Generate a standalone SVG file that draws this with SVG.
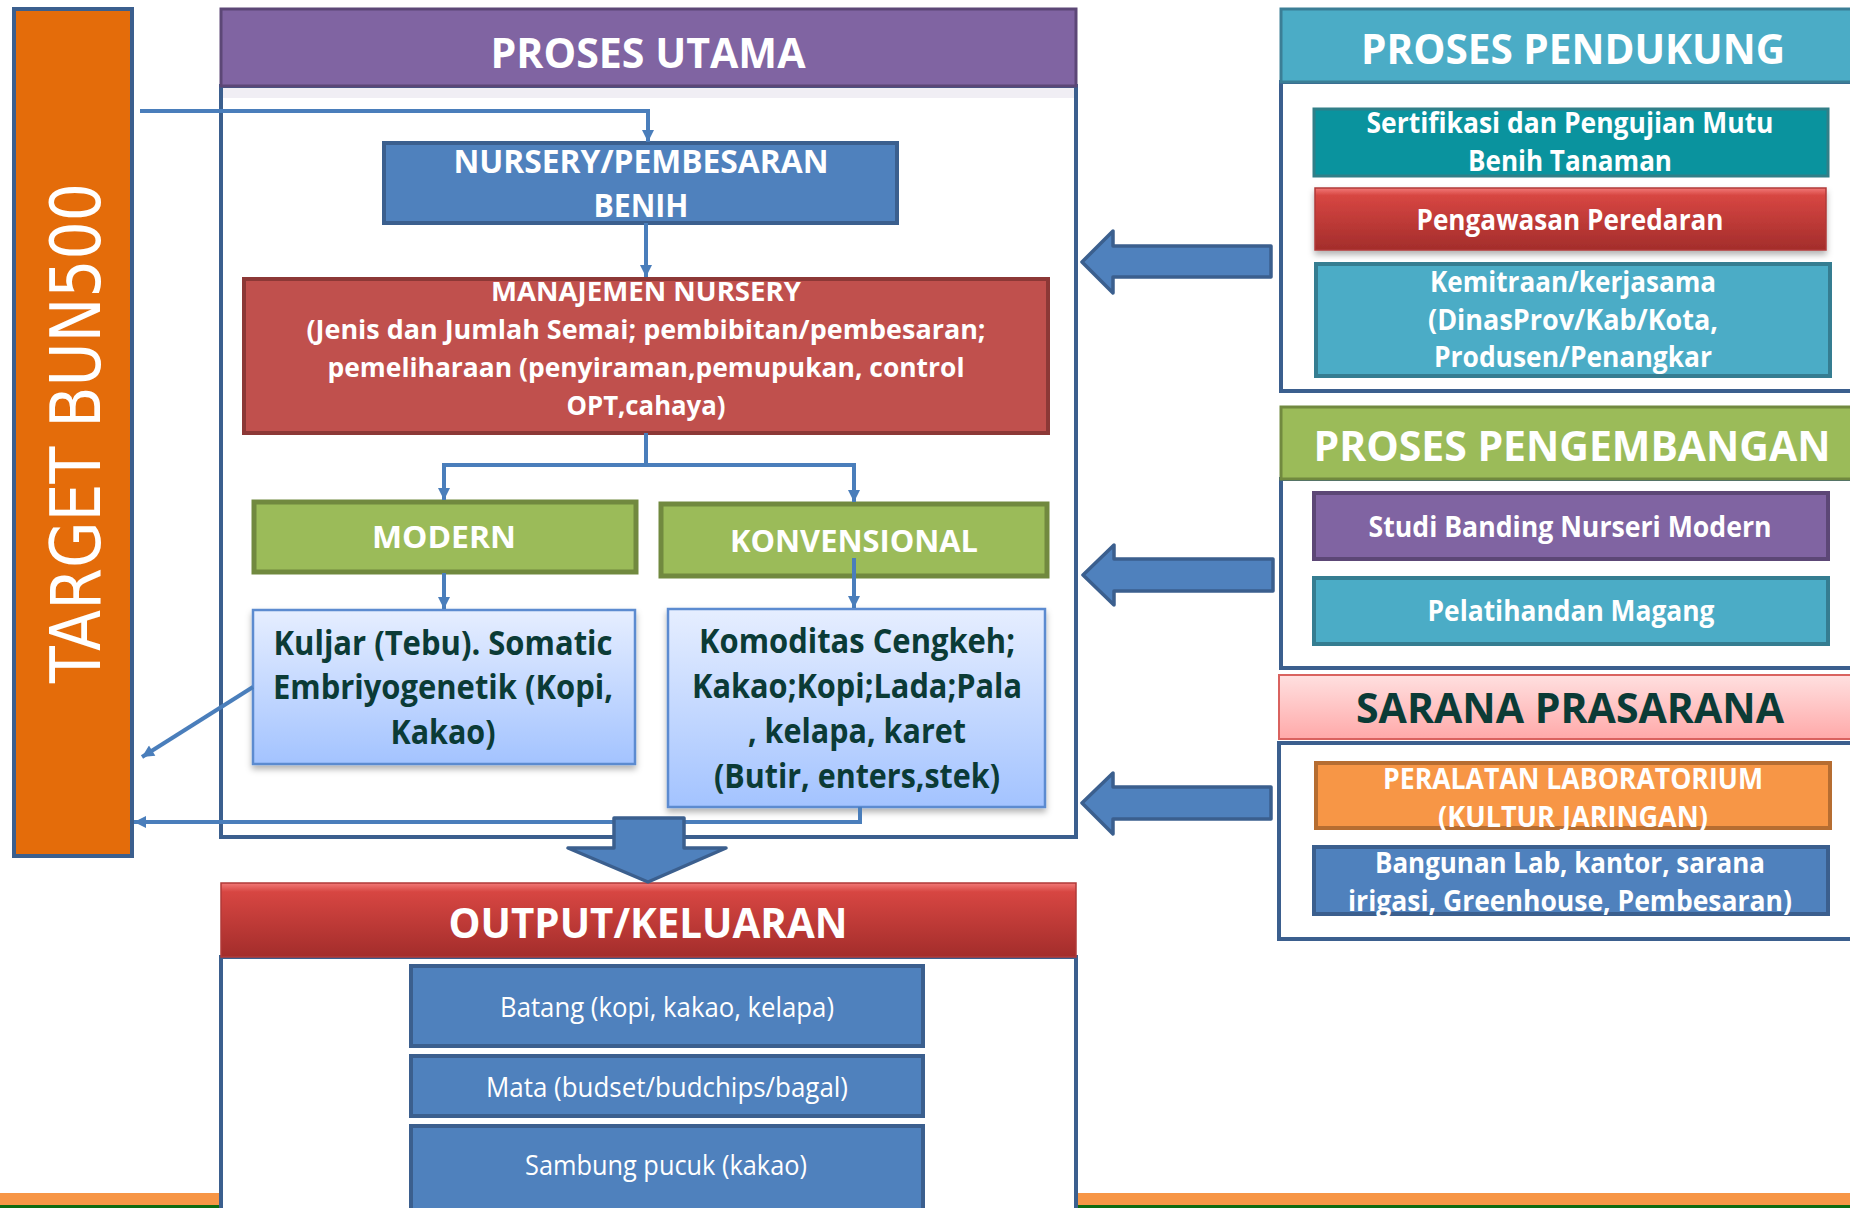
<svg xmlns="http://www.w3.org/2000/svg" width="1850" height="1208" viewBox="0 0 1850 1208">
<style>
.panel{fill:#fff;stroke:#3B5F8E;stroke-width:4}
.conn{fill:none;stroke:#4A7EBB;stroke-width:4}
.blk{fill:#4F81BD;stroke:#3B5F8E;stroke-width:3.5;stroke-linejoin:round}
.t{font-family:"Open Sans","Liberation Sans",sans-serif;font-weight:bold;text-anchor:middle;fill:#fff}
.tn{font-family:"Open Sans","Liberation Sans",sans-serif;font-weight:normal;text-anchor:middle;fill:#fff}
.dk{fill:#0B3B36}
.h{font-size:42px}
</style>
<defs>
<marker id="ah" viewBox="0 0 10 10" refX="10" refY="5" markerWidth="14" markerHeight="12" markerUnits="userSpaceOnUse" orient="auto">
<path d="M0,0 L10,5 L0,10 z" fill="#4A7EBB"/>
</marker>
<linearGradient id="gRed" x1="0" y1="0" x2="0" y2="1">
<stop offset="0" stop-color="#F27A78"/><stop offset="0.12" stop-color="#D74642"/><stop offset="1" stop-color="#A32D2B"/>
</linearGradient>
<linearGradient id="gBlue" x1="0" y1="0" x2="0" y2="1">
<stop offset="0" stop-color="#E6EEFF"/><stop offset="1" stop-color="#A3C3FF"/>
</linearGradient>
<linearGradient id="gPink" x1="0" y1="0" x2="0" y2="1">
<stop offset="0" stop-color="#FFE0E0"/><stop offset="1" stop-color="#FFA9A9"/>
</linearGradient>
<filter id="sh" x="-10%" y="-10%" width="120%" height="130%">
<feDropShadow dx="0" dy="4" stdDeviation="3" flood-color="#000" flood-opacity="0.3"/>
</filter>
</defs>

<rect x="0" y="0" width="1850" height="1208" fill="#fff"/>
<g id="bottom-strip">
<rect x="0" y="1193" width="1850" height="12" fill="#F79646"/>
<rect x="0" y="1205" width="1850" height="3" fill="#0E6B12"/>
</g>

<g id="target">
<rect x="14" y="9" width="118" height="847" fill="#E46C0A" stroke="#3B5F8E" stroke-width="4"/>
<text transform="translate(100,433) rotate(-90)" x="0" y="0" font-family="DejaVu Sans, Liberation Sans, sans-serif" font-size="70" fill="#fff" text-anchor="middle" textLength="500" lengthAdjust="spacingAndGlyphs">TARGET BUN500</text>
</g>

<g id="proses-utama">
<rect class="panel" x="221" y="86" width="855" height="751"/>
<rect x="223" y="88" width="851" height="10" fill="#F0EEF4"/>
<rect x="221" y="9" width="855" height="77" fill="#8064A2" stroke="#5C4776" stroke-width="3"/>
<text class="t h" x="648" y="68" textLength="315" lengthAdjust="spacingAndGlyphs">PROSES UTAMA</text>
</g>

<g id="nursery">
<rect x="384" y="143" width="513" height="80" fill="#4F81BD" stroke="#3B5F8E" stroke-width="4"/>
<text class="t" font-size="32" x="641" y="173" textLength="375" lengthAdjust="spacingAndGlyphs">NURSERY/PEMBESARAN</text>
<text class="t" font-size="32" x="641" y="217" textLength="95" lengthAdjust="spacingAndGlyphs">BENIH</text>
</g>

<g id="manajemen">
<rect x="244" y="279" width="804" height="154" fill="#C0504D" stroke="#8C3836" stroke-width="4"/>
<text class="t" font-size="27" x="646" y="301" textLength="310" lengthAdjust="spacingAndGlyphs">MANAJEMEN NURSERY</text>
<text class="t" font-size="27" x="646" y="339" textLength="679" lengthAdjust="spacingAndGlyphs">(Jenis dan Jumlah Semai; pembibitan/pembesaran;</text>
<text class="t" font-size="27" x="646" y="377" textLength="637" lengthAdjust="spacingAndGlyphs">pemeliharaan (penyiraman,pemupukan, control</text>
<text class="t" font-size="27" x="646" y="415" textLength="159" lengthAdjust="spacingAndGlyphs">OPT,cahaya)</text>
</g>

<g id="modern">
<rect x="254" y="502" width="382" height="70" fill="#9BBB59" stroke="#71893F" stroke-width="5"/>
<text class="t" font-size="30" x="444" y="548" textLength="144" lengthAdjust="spacingAndGlyphs">MODERN</text>
</g>

<g id="konvensional">
<rect x="661" y="504" width="386" height="72" fill="#9BBB59" stroke="#71893F" stroke-width="5"/>
<text class="t" font-size="30" x="854" y="552" textLength="248" lengthAdjust="spacingAndGlyphs">KONVENSIONAL</text>
</g>

<g id="kuljar">
<rect x="253" y="610" width="382" height="154" fill="url(#gBlue)" stroke="#5B8BD0" stroke-width="2.5" filter="url(#sh)"/>
<text class="t dk" font-size="34" x="443" y="655" textLength="339" lengthAdjust="spacingAndGlyphs">Kuljar (Tebu). Somatic</text>
<text class="t dk" font-size="34" x="443" y="699" textLength="340" lengthAdjust="spacingAndGlyphs">Embriyogenetik (Kopi,</text>
<text class="t dk" font-size="34" x="443" y="744" textLength="105" lengthAdjust="spacingAndGlyphs">Kakao)</text>
</g>

<g id="komoditas">
<rect x="668" y="609" width="377" height="198" fill="url(#gBlue)" stroke="#5B8BD0" stroke-width="2.5" filter="url(#sh)"/>
<text class="t dk" font-size="34" x="857" y="653" textLength="316" lengthAdjust="spacingAndGlyphs">Komoditas Cengkeh;</text>
<text class="t dk" font-size="34" x="857" y="698" textLength="330" lengthAdjust="spacingAndGlyphs">Kakao;Kopi;Lada;Pala</text>
<text class="t dk" font-size="34" x="857" y="743" textLength="218" lengthAdjust="spacingAndGlyphs">, kelapa, karet</text>
<text class="t dk" font-size="34" x="857" y="788" textLength="286" lengthAdjust="spacingAndGlyphs">(Butir, enters,stek)</text>
</g>

<g id="output">
<rect class="panel" x="221" y="957" width="855" height="260"/>
<rect x="221" y="883" width="855" height="74" fill="url(#gRed)" stroke="#B03A38" stroke-width="1.5"/>
<text class="t h" x="648" y="938" textLength="399" lengthAdjust="spacingAndGlyphs">OUTPUT/KELUARAN</text>
</g>

<g id="batang">
<rect x="411" y="966" width="512" height="80" fill="#4F81BD" stroke="#3B5F8E" stroke-width="4"/>
<text class="tn" font-size="27" x="667" y="1017" textLength="334" lengthAdjust="spacingAndGlyphs">Batang (kopi, kakao, kelapa)</text>
</g>
<g id="mata">
<rect x="411" y="1056" width="512" height="60" fill="#4F81BD" stroke="#3B5F8E" stroke-width="4"/>
<text class="tn" font-size="27" x="667" y="1097" textLength="362" lengthAdjust="spacingAndGlyphs">Mata (budset/budchips/bagal)</text>
</g>
<g id="sambung">
<rect x="411" y="1126" width="512" height="90" fill="#4F81BD" stroke="#3B5F8E" stroke-width="4"/>
<text class="tn" font-size="27" x="666" y="1175" textLength="282" lengthAdjust="spacingAndGlyphs">Sambung pucuk (kakao)</text>
</g>

<g id="proses-pendukung">
<rect class="panel" x="1281" y="82" width="590" height="309"/>
<rect x="1281" y="9" width="590" height="73" fill="#4BACC6" stroke="#3B7E96" stroke-width="3"/>
<text class="t h" x="1573" y="64" textLength="424" lengthAdjust="spacingAndGlyphs">PROSES PENDUKUNG</text>
</g>
<g id="sertifikasi">
<rect x="1314" y="109" width="514" height="67" fill="#0A939E" stroke="#317F88" stroke-width="3"/>
<text class="t" font-size="28" x="1570" y="133" textLength="407" lengthAdjust="spacingAndGlyphs">Sertifikasi dan Pengujian Mutu</text>
<text class="t" font-size="28" x="1570" y="171" textLength="204" lengthAdjust="spacingAndGlyphs">Benih Tanaman</text>
</g>
<g id="pengawasan">
<rect x="1315" y="188" width="511" height="62" fill="url(#gRed)" stroke="#B03A38" stroke-width="1.5" filter="url(#sh)"/>
<text class="t" font-size="28" x="1570" y="230" textLength="307" lengthAdjust="spacingAndGlyphs">Pengawasan Peredaran</text>
</g>
<g id="kemitraan">
<rect x="1316" y="264" width="514" height="112" fill="#4BACC6" stroke="#357D91" stroke-width="4"/>
<text class="t" font-size="28" x="1573" y="292" textLength="286" lengthAdjust="spacingAndGlyphs">Kemitraan/kerjasama</text>
<text class="t" font-size="28" x="1573" y="330" textLength="290" lengthAdjust="spacingAndGlyphs">(DinasProv/Kab/Kota,</text>
<text class="t" font-size="28" x="1573" y="367" textLength="278" lengthAdjust="spacingAndGlyphs">Produsen/Penangkar</text>
</g>

<g id="proses-pengembangan">
<rect class="panel" x="1281" y="479" width="590" height="189"/>
<rect x="1281" y="407" width="590" height="72" fill="#9BBB59" stroke="#71893F" stroke-width="3"/>
<text class="t h" x="1572" y="461" textLength="517" lengthAdjust="spacingAndGlyphs">PROSES PENGEMBANGAN</text>
</g>
<g id="studi-banding">
<rect x="1314" y="493" width="514" height="66" fill="#8064A2" stroke="#5C4776" stroke-width="4"/>
<text class="t" font-size="28" x="1570" y="537" textLength="403" lengthAdjust="spacingAndGlyphs">Studi Banding Nurseri Modern</text>
</g>
<g id="pelatihan">
<rect x="1314" y="578" width="514" height="66" fill="#4BACC6" stroke="#357D91" stroke-width="4"/>
<text class="t" font-size="28" x="1571" y="621" textLength="287" lengthAdjust="spacingAndGlyphs">Pelatihandan Magang</text>
</g>

<g id="sarana-prasarana">
<rect class="panel" x="1279" y="743" width="592" height="196"/>
<rect x="1279" y="675" width="592" height="64" fill="url(#gPink)" stroke="#D9625F" stroke-width="2"/>
<text class="t dk h" x="1570" y="723" textLength="428" lengthAdjust="spacingAndGlyphs">SARANA PRASARANA</text>
</g>
<g id="peralatan">
<rect x="1316" y="763" width="514" height="65" fill="#F79646" stroke="#B66D31" stroke-width="4"/>
<text class="t" font-size="28" x="1573" y="789" textLength="380" lengthAdjust="spacingAndGlyphs">PERALATAN LABORATORIUM</text>
<text class="t" font-size="28" x="1573" y="827" textLength="270" lengthAdjust="spacingAndGlyphs">(KULTUR JARINGAN)</text>
</g>
<g id="bangunan">
<rect x="1314" y="847" width="514" height="67" fill="#4F81BD" stroke="#3B5F8E" stroke-width="4"/>
<text class="t" font-size="28" x="1570" y="873" textLength="390" lengthAdjust="spacingAndGlyphs">Bangunan Lab, kantor, sarana</text>
<text class="t" font-size="28" x="1570" y="911" textLength="444" lengthAdjust="spacingAndGlyphs">irigasi, Greenhouse, Pembesaran)</text>
</g>

<g id="connectors">
<path class="conn" d="M140,111 H648 V142" marker-end="url(#ah)"/>
<path class="conn" d="M646,223 V277" marker-end="url(#ah)"/>
<path class="conn" d="M646,433 V465 M442,465 H856"/>
<path class="conn" d="M444,465 V500" marker-end="url(#ah)"/>
<path class="conn" d="M854,465 V502" marker-end="url(#ah)"/>
<path class="conn" d="M444,573 V609" marker-end="url(#ah)"/>
<path class="conn" d="M854,558 V608" marker-end="url(#ah)"/>
<path class="conn" d="M253,687 L142,757" marker-end="url(#ah)"/>
<path class="conn" d="M860,807 V822 H134" marker-end="url(#ah)"/>
<polygon class="blk" points="614,818 684,818 684,848 726,848 648,882 568,848 614,848"/>
<polygon class="blk" points="1082,262 1113,231 1113,246 1271,246 1271,277 1113,277 1113,293"/>
<polygon class="blk" points="1083,575 1114,545 1114,559 1273,559 1273,591 1114,591 1114,605"/>
<polygon class="blk" points="1082,803 1113,773 1113,787 1271,787 1271,819 1113,819 1113,834"/>
</g>
</svg>
